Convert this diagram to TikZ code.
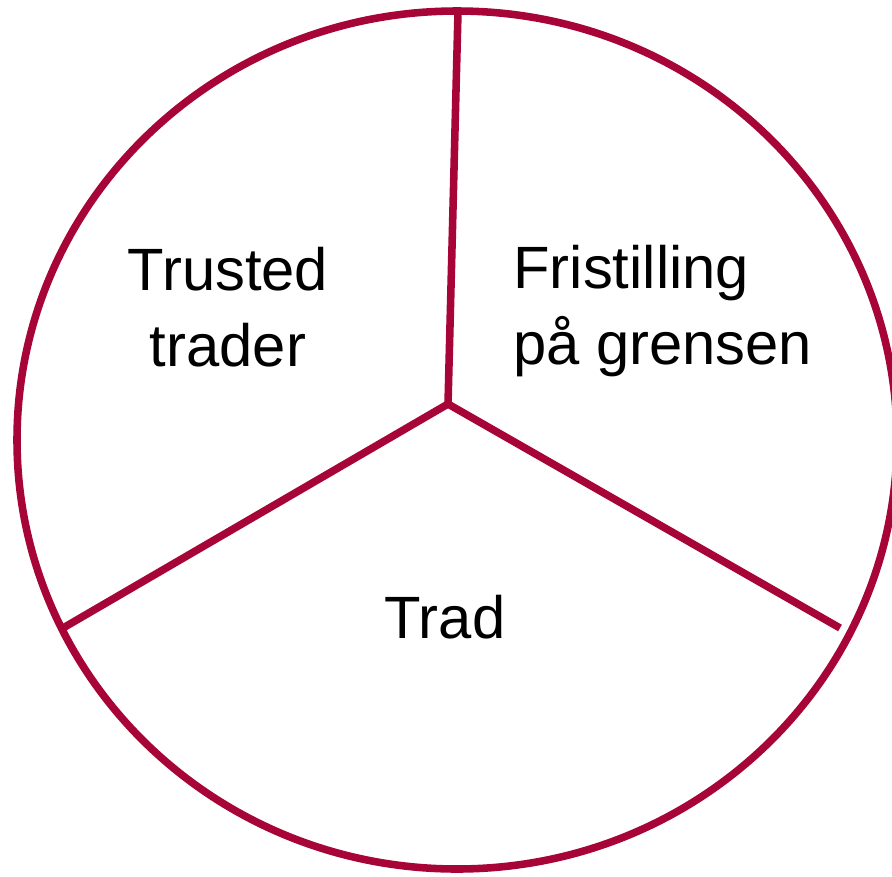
\documentclass[tikz,border=0pt]{standalone}
\usepackage{fontspec}
\setmainfont{Liberation Sans}
\definecolor{wine}{RGB}{167,5,55}
\tikzset{
  rim/.style={draw=wine,line width=4.3pt},
  spoke/.style={draw=wine,line width=4.3pt},
  label/.style={font=\fontsize{34}{43}\selectfont,inner sep=0pt}
}
\begin{document}
\begin{tikzpicture}[x=0.02cm,y=-0.02cm]
  \useasboundingbox (0,0) rectangle (892,876);
  \clip (0,0) rectangle (892,876);

  % outer ring
  \draw[rim] (457,440) ellipse [x radius=440,y radius=429];

  % spokes
  \coordinate (hub) at (448,404);
  \coordinate (topend) at (458,12);
  \coordinate (leftend) at (63,628);
  \coordinate (rightend) at (840,628);
  \draw[spoke] (hub) -- (topend);
  \draw[spoke] (hub) -- (leftend);
  \draw[spoke] (hub) -- (rightend);

  % sector labels
  \node[label,align=center] (trusted) at (228,307) {Trusted\\trader};
  \node[label,align=left,anchor=west] (fri) at (513,311) {Fristilling\\på grensen};
  \node[label,anchor=base] (trad) at (445,638) {Trad};
\end{tikzpicture}
\end{document}
